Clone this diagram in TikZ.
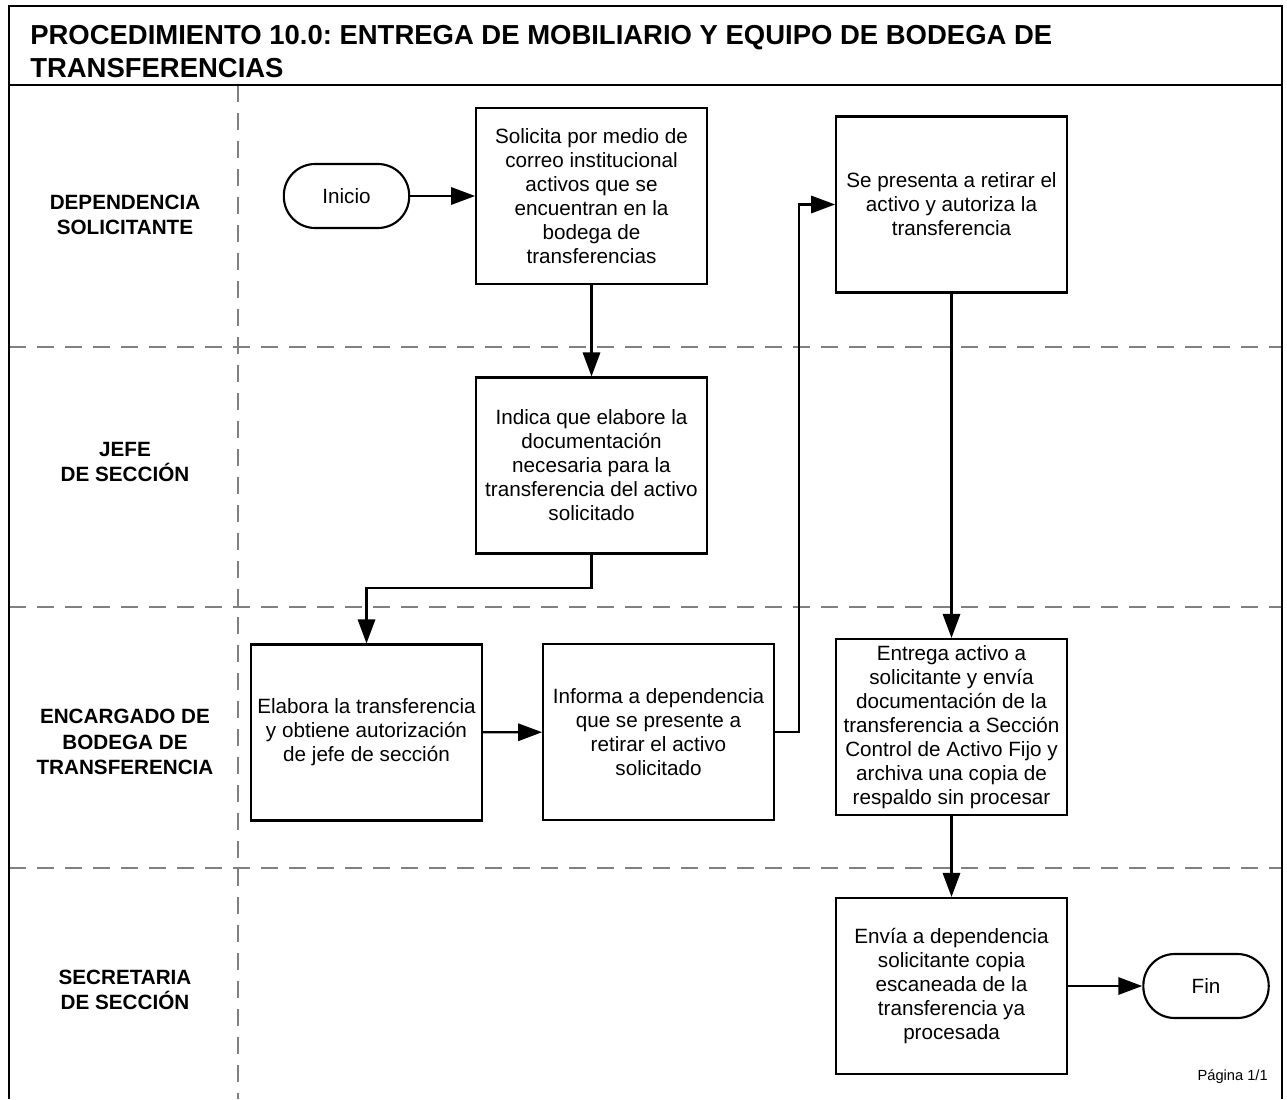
\documentclass[tikz,border=0pt]{standalone}
\usepackage{fontspec}
\setmainfont{Liberation Sans}
\usetikzlibrary{arrows.meta}
\frenchspacing
\begin{document}
\begin{tikzpicture}[x=0.75pt,y=-0.75pt,
  box/.style={draw, line width=1.6pt, minimum width=173pt, minimum height=132pt, inner sep=2pt, align=center, font=\fontsize{15.5}{18}\selectfont},
  term/.style={draw, line width=1.6pt, rounded corners=23.5pt, minimum width=94pt, minimum height=48pt, inner sep=2pt, font=\fontsize{15.5}{18}\selectfont},
  lane/.style={align=center, inner sep=0pt, font=\bfseries\fontsize{15.5}{19}\selectfont},
  arr/.style={line width=1.6pt, -{Triangle[length=18pt,width=13pt]}},
  sep/.style={draw=black!50, line width=1.5pt, dash pattern=on 13pt off 8pt}]
\useasboundingbox (0,0) rectangle (1287,1099);
% lane separators
\draw[sep] (9,347) -- (1282,347);
\draw[sep] (9,607) -- (1282,607);
\draw[sep] (9,868) -- (1282,868);
\draw[sep] (238,85) -- (238,1099);
% frame
\draw[line width=2pt] (9,1099) -- (9,6) -- (1282,6) -- (1282,1099);
\draw[line width=2pt] (9,85) -- (1282,85);
% title
\node[anchor=north west, inner sep=0pt, align=left, font=\bfseries\fontsize{20.6}{24.75}\selectfont] (title) at (30,25)
  {PROCEDIMIENTO 10.0: ENTREGA DE MOBILIARIO Y EQUIPO DE BODEGA DE\\TRANSFERENCIAS};
% lane labels
\node[lane] (l1) at (125,215) {DEPENDENCIA\\SOLICITANTE};
\node[lane] (l2) at (125,462) {JEFE\\DE SECCIÓN};
\node[lane] (l3) at (125,742) {ENCARGADO DE\\BODEGA DE\\TRANSFERENCIA};
\node[lane] (l4) at (125,990) {SECRETARIA\\DE SECCIÓN};
% shapes
\node[term] (ini) at (346.5,196) {Inicio};
\node[box] (b1) at (591.5,196) {Solicita por medio de\\correo institucional\\activos que se\\encuentran en la\\bodega de\\transferencias};
\node[box] (b2) at (951.5,204.5) {Se presenta a retirar el\\activo y autoriza la\\transferencia};
\node[box] (b3) at (591.5,465.5) {Indica que elabore la\\documentación\\necesaria para la\\transferencia del activo\\solicitado};
\node[box] (b4) at (366.5,732.5) {Elabora la transferencia\\y obtiene autorización\\de jefe de sección};
\node[box] (b5) at (658.5,732) {Informa a dependencia\\que se presente a\\retirar el activo\\solicitado};
\node[box] (b6) at (951.5,727) {Entrega activo a\\solicitante y envía\\documentación de la\\transferencia a Sección\\Control de Activo Fijo y\\archiva una copia de\\respaldo sin procesar};
\node[box] (b7) at (951.5,986) {Envía a dependencia\\solicitante copia\\escaneada de la\\transferencia ya\\procesada};
\node[term] (fin) at (1206,986) {Fin};
\node[anchor=base east, inner sep=0pt, font=\fontsize{11}{13}\selectfont] (pag) at (1268,1080) {Página 1/1};
% connectors
\draw[arr] (ini) -- (b1);
\draw[arr] (b1) -- (b3);
\draw[arr] (b3.south) -- ++(0,33) -| (b4.north);
\draw[arr] (b4) -- (b5);
\draw[arr] (b5.east) -- ++(24,0) |- (b2.west);
\draw[arr] (b2) -- (b6);
\draw[arr] (b6) -- (b7);
\draw[arr] (b7) -- (fin);
\end{tikzpicture}
\end{document}
